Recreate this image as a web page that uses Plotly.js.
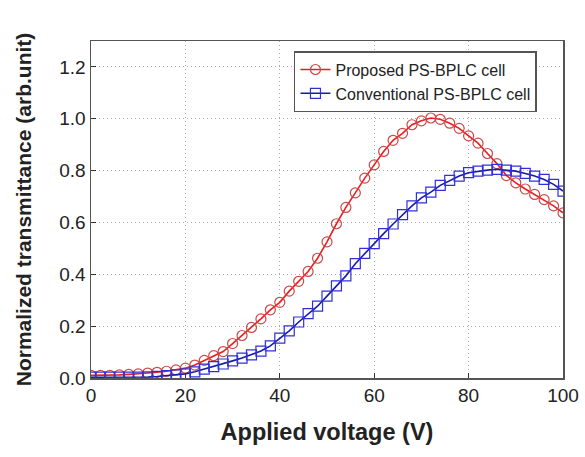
<!DOCTYPE html>
<html>
<head>
<meta charset="utf-8">
<script src="https://cdn.plot.ly/plotly-3.0.1.min.js"></script>
<style>html,body{margin:0;padding:0;background:#fff;}#chart{width:585px;height:457px;}</style>
</head>
<body>
<div id="chart"></div>
<script>
const voltage = [0,2,4,6,8,10,12,14,16,18,20,22,24,26,28,30,32,34,36,38,40,42,44,46,48,50,52,54,56,58,60,62,64,66,68,70,72,74,76,78,80,82,84,86,88,90,92,94,96,98,100];
const proposed = [0.010,0.010,0.010,0.012,0.014,0.016,0.019,0.022,0.026,0.031,0.038,0.050,0.068,0.086,0.102,0.133,0.164,0.195,0.228,0.263,0.292,0.335,0.373,0.411,0.462,0.525,0.595,0.658,0.714,0.771,0.822,0.874,0.917,0.944,0.977,0.992,1.003,0.998,0.983,0.963,0.934,0.906,0.866,0.827,0.781,0.753,0.729,0.708,0.688,0.664,0.637];
const conventional = [0.003,0.003,0.003,0.003,0.003,0.003,0.004,0.006,0.009,0.012,0.016,0.024,0.034,0.044,0.054,0.066,0.077,0.089,0.104,0.124,0.154,0.182,0.216,0.248,0.277,0.316,0.355,0.394,0.441,0.481,0.518,0.557,0.594,0.630,0.664,0.695,0.717,0.743,0.762,0.779,0.792,0.798,0.802,0.805,0.802,0.798,0.789,0.779,0.766,0.747,0.721];
const xTicks = [0,20,40,60,80,100];
const yTicks = [0,0.2,0.4,0.6,0.8,1.0,1.2];
const yTickText = ['0.0','0.2','0.4','0.6','0.8','1.0','1.2'];

const traces = [
  {x: voltage, y: proposed, name: 'Proposed PS-BPLC cell', mode: 'lines+markers', type: 'scatter',
   line: {color: '#ee1c1c', width: 1.6},
   marker: {symbol: 'circle-open', size: 10, color: '#cc4848', line: {width: 1.2, color: '#cc4848'}}},
  {x: voltage, y: conventional, name: 'Conventional PS-BPLC cell', mode: 'lines+markers', type: 'scatter',
   line: {color: '#1a1aa8', width: 1.6},
   marker: {symbol: 'square-open', size: 10, color: '#3030d8', line: {width: 1.2, color: '#3030d8'}}}
];

const axisCommon = {
  showline: true, mirror: true, linecolor: '#555', linewidth: 1.5,
  ticks: 'inside', ticklen: 5, tickcolor: '#333', tickwidth: 1,
  showgrid: true, gridcolor: '#aaa', griddash: '1px,3px', gridwidth: 1,
  zeroline: false,
  tickfont: {family: 'Liberation Sans, Arial, sans-serif', size: 19, color: '#222'}
};

const layout = {
  width: 585, height: 457,
  margin: {l: 91, r: 22, t: 41, b: 79},
  paper_bgcolor: '#fff', plot_bgcolor: '#fff',
  showlegend: true,
  legend: {x: 0.43, y: 0.97, xanchor: 'left', yanchor: 'top',
    bgcolor: '#fff', bordercolor: '#555', borderwidth: 1.5,
    font: {family: 'Liberation Sans, Arial, sans-serif', size: 16, color: '#222'},
    tracegroupgap: 0, itemwidth: 30},
  xaxis: Object.assign({}, axisCommon, {
    range: [0, 100], tickvals: xTicks, ticktext: xTicks.map(String),
    title: {text: '<b>Applied voltage (V)</b>', standoff: 18,
      font: {family: 'Liberation Sans, Arial, sans-serif', size: 23.5, color: '#222'}}
  }),
  yaxis: Object.assign({}, axisCommon, {
    range: [0, 1.3], tickvals: yTicks, ticktext: yTickText,
    title: {text: '<b>Normalized transmittance (arb.unit)</b>', standoff: 22,
      font: {family: 'Liberation Sans, Arial, sans-serif', size: 21, color: '#222'}}
  })
};

Plotly.newPlot('chart', traces, layout, {displayModeBar: false, staticPlot: true});
</script>
</body>
</html>
